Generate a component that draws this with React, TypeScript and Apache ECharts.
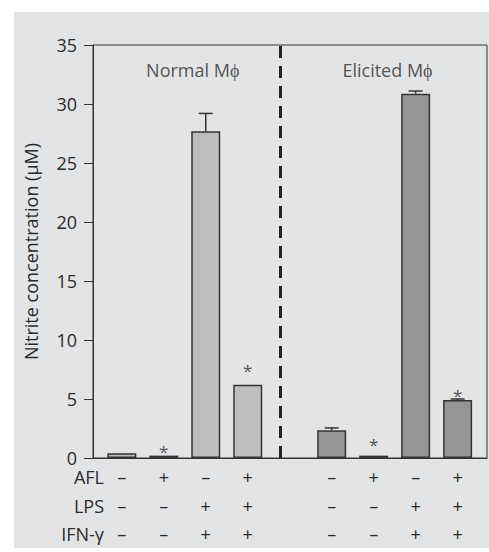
import React, { useEffect, useRef } from "react";
import * as echarts from "echarts";

const positions = [0, 1, 2, 3, 5, 6, 7, 8];
const values = [0.4, 0.2, 27.7, 6.2, 2.35, 0.2, 30.87, 4.92];
const errorTops = [null, null, 29.2, null, 2.55, null, 31.1, 5.0];
const groups = ["normal", "normal", "normal", "normal", "elicited", "elicited", "elicited", "elicited"];
const asterisks = [null, 0.85, null, 7.72, null, 1.5, null, 5.6];
const afl = ["–", "+", "–", "+", "–", "+", "–", "+"];
const lps = ["–", "–", "+", "+", "–", "–", "+", "+"];
const ifn = ["–", "–", "+", "+", "–", "–", "+", "+"];
const rowNames = ["AFL", "LPS", "IFN-γ"];
const groupTitles = ["Normal Mϕ", "Elicited Mϕ"];
const groupTitlePos = [1.69, 6.33];
const dividerX = 3.77;
const yTicks = [0, 5, 10, 15, 20, 25, 30, 35];

const groupColors: Record<string, string> = { normal: "#bdbec0", elicited: "#949596" };
const FONT = "Open Sans";
const TXT = "#2b2b2b";

export default function App() {
  const ref = useRef<HTMLDivElement>(null);
  useEffect(() => {
    if (!ref.current) return;
    const chart = echarts.init(ref.current, null, { renderer: "svg" });
    const rowY = [477, 506, 534];
    chart.setOption({
      animation: false,
      graphic: [
        { type: "rect", z: -10, shape: { x: 14, y: 12, width: 475, height: 536 }, style: { fill: "#e3e4e6" } },
        ...rowNames.map((n, i) => ({
          type: "text",
          x: 104,
          y: rowY[i],
          style: { text: n, fontFamily: FONT, fontSize: 18, fill: TXT, align: "right", verticalAlign: "middle" },
        })),
      ],
      grid: { left: 93, right: 2, top: 45, bottom: 94, show: true, borderColor: "#333", borderWidth: 1, backgroundColor: "transparent" },
      xAxis: {
        type: "value",
        min: -0.686,
        max: 8.7,
        splitLine: { show: false },
        axisTick: { show: false },
        axisLine: { show: true, onZero: false, lineStyle: { color: "#333", width: 1 } },
        axisLabel: {
          customValues: positions,
          margin: 5,
          fontFamily: FONT,
          fontSize: 18,
          color: TXT,
          lineHeight: 28.5,
          formatter: (v: number) => {
            const i = positions.indexOf(Math.round(v));
            if (i < 0) return "";
            return afl[i] + "\n" + lps[i] + "\n" + ifn[i];
          },
        },
      },
      yAxis: {
        type: "value",
        min: 0,
        max: 35,
        interval: 5,
        name: "Nitrite concentration (µM)",
        nameLocation: "middle",
        nameGap: 53,
        nameTextStyle: { fontFamily: FONT, fontSize: 18, color: TXT },
        splitLine: { show: false },
        axisLine: { show: true, onZero: false, lineStyle: { color: "#333", width: 1 } },
        axisTick: { show: true, length: 9, lineStyle: { color: "#333" } },
        axisLabel: { margin: 16, fontFamily: FONT, fontSize: 18, color: TXT, customValues: yTicks },
      },
      series: [
        {
          type: "bar",
          barWidth: 29,
          data: positions.map((p, i) => ({
            value: [p, values[i]],
            itemStyle: { color: groupColors[groups[i]], borderColor: "#333", borderWidth: 1.5 },
          })),
          markLine: {
            silent: true,
            symbol: "none",
            label: { show: false },
            lineStyle: { type: [12, 8], width: 3, color: "#222" },
            data: [{ xAxis: dividerX }],
          },
        },
        {
          type: "custom",
          renderItem: (params: any, api: any) => {
            const x = api.value(0);
            const base = api.coord([x, api.value(1)]);
            const top = api.coord([x, api.value(2)]);
            const style = { stroke: "#333", lineWidth: 1.5 };
            return {
              type: "group",
              children: [
                { type: "line", shape: { x1: base[0], y1: base[1], x2: top[0], y2: top[1] }, style },
                { type: "line", shape: { x1: top[0] - 7, y1: top[1], x2: top[0] + 7, y2: top[1] }, style },
              ],
            };
          },
          data: positions
            .map((p, i) => (errorTops[i] == null ? null : [p, values[i], errorTops[i]]))
            .filter((d) => d !== null),
          z: 3,
        },
        {
          type: "scatter",
          symbolSize: 0,
          data: positions
            .map((p, i) => (asterisks[i] == null ? null : [p, asterisks[i]]))
            .filter((d) => d !== null),
          label: {
            show: true,
            position: "inside",
            formatter: "*",
            fontFamily: FONT,
            fontSize: 17,
            color: TXT,
            offset: [0, 4],
          },
        },
        {
          type: "scatter",
          symbolSize: 0,
          data: groupTitlePos.map((p) => [p, 32.9]),
          label: {
            show: true,
            position: "inside",
            fontFamily: FONT,
            fontSize: 18,
            color: TXT,
            formatter: (pr: any) => groupTitles[pr.dataIndex],
          },
        },
      ],
    });
    return () => chart.dispose();
  }, []);
  return <div ref={ref} style={{ position: "absolute", left: 0, top: 0, width: 489, height: 552 }} />;
}
